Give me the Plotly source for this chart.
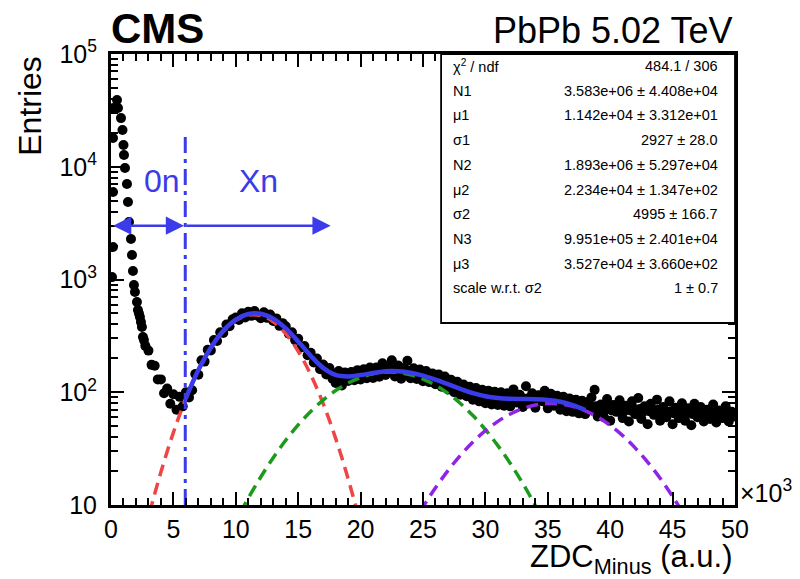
import math
import plotly.graph_objects as go

# ---------------- data ----------------
# measured points (x in units of 10^3 a.u.)
early_x = [0.08, 0.16, 0.16, 0.16, 0.16, 0.48, 0.56, 0.80, 0.92, 1.00, 1.04, 1.12, 1.28,
           1.36, 1.44, 1.60, 1.68, 1.76, 1.84, 1.92, 2.08, 2.16, 2.24, 2.32, 2.40, 2.48, 2.56, 2.64]
early_y = [1050, 1940, 5970, 18000, 33200, 39100, 33200, 27000, 21200, 15600, 12700, 9750, 7030,
           4870, 3240, 2290, 1650, 1190, 893, 774, 631, 536, 500, 465, 420, 379, 309, 290]

band_x = [2.75, 3.00, 3.25, 3.50, 3.75, 4.00, 4.25, 4.50, 4.75, 5.00, 5.25, 5.50, 5.75, 6.00, 6.25, 6.50, 6.75, 7.00, 7.25, 7.50,
          7.75, 8.00, 8.25, 8.50, 8.75, 9.00, 9.25, 9.50, 9.75, 10.00, 10.25, 10.50, 10.75, 11.00, 11.25, 11.50, 11.75, 12.00, 12.25, 12.50,
          12.75, 13.00, 13.25, 13.50, 13.75, 14.00, 14.25, 14.50, 14.75, 15.00, 15.25, 15.50, 15.75, 16.00, 16.25, 16.50, 16.75, 17.00, 17.25, 17.50,
          17.75, 18.00, 18.25, 18.50, 18.75, 19.00, 19.25, 19.50, 19.75, 20.00, 20.25, 20.50, 20.75, 21.00, 21.25, 21.50, 21.75, 22.00, 22.25, 22.50,
          22.75, 23.00, 23.25, 23.50, 23.75, 24.00, 24.25, 24.50, 24.75, 25.00, 25.25, 25.50, 25.75, 26.00, 26.25, 26.50, 26.75, 27.00, 27.25, 27.50,
          27.75, 28.00, 28.25, 28.50, 28.75, 29.00, 29.25, 29.50, 29.75, 30.00, 30.25, 30.50, 30.75, 31.00, 31.25, 31.50, 31.75, 32.00, 32.25, 32.50,
          32.75, 33.00, 33.25, 33.50, 33.75, 34.00, 34.25, 34.50, 34.75, 35.00, 35.25, 35.50, 35.75, 36.00, 36.25, 36.50, 36.75, 37.00, 37.25, 37.50,
          37.75, 38.00, 38.25, 38.50, 38.75, 39.00, 39.25, 39.50, 39.75, 40.00, 40.25, 40.50, 40.75, 41.00, 41.25, 41.50, 41.75, 42.00, 42.25, 42.50,
          42.75, 43.00, 43.25, 43.50, 43.75, 44.00, 44.25, 44.50, 44.75, 45.00, 45.25, 45.50, 45.75, 46.00, 46.25, 46.50, 46.75, 47.00, 47.25, 47.50,
          47.75, 48.00, 48.25, 48.50, 48.75, 49.00, 49.25, 49.50, 49.75, 50.00]
band_y = [258, 234, 175, 172, 130, 130, 98, 108, 79, 96, 70, 91, 75, 100, 90, 104, 145, 143, 192, 187,
          238, 235, 290, 285, 341, 335, 398, 385, 444, 461, 438, 502, 460, 517, 476, 526, 478, 454, 512, 457,
          489, 428, 452, 388, 410, 384, 330, 341, 290, 298, 249, 257, 213, 224, 184, 199, 160, 176, 144, 164,
          132, 121, 154, 115, 150, 126, 151, 128, 157, 130, 160, 133, 166, 134, 166, 137, 181, 142, 168, 192,
          138, 173, 132, 164, 190, 133, 163, 131, 159, 125, 154, 123, 147, 118, 144, 112, 138, 106, 129, 100,
          124, 95, 117, 92, 112, 86, 109, 83, 105, 80, 103, 78, 101, 77, 100, 76, 98, 75, 106, 81,
          95, 74, 113, 80, 98, 73, 94, 84, 103, 72, 97, 76, 93, 70, 91, 68, 88, 67, 86, 65,
          84, 64, 82, 90, 105, 61, 78, 60, 87, 56, 77, 67, 85, 59, 76, 55, 83, 64, 89, 58,
          75, 52, 79, 63, 86, 56, 74, 60, 83, 52, 73, 59, 80, 56, 72, 51, 79, 60, 74, 55,
          70, 58, 78, 54, 69, 59, 75, 55, 67, 61]

# second row of measured points, between the bins above
band2_x = [17.875, 18.125, 18.375, 18.625, 18.875, 19.125, 19.375, 19.625, 19.875, 20.125, 20.375, 20.625, 20.875, 21.125, 21.375, 21.625,
           21.875, 22.125, 22.375, 22.625, 22.875, 23.125, 23.375, 23.625, 23.875, 24.125, 24.375, 24.625, 24.875, 25.125, 25.375, 25.625,
           25.875, 26.125, 26.375, 26.625, 26.875, 27.125, 27.375, 27.625, 27.875, 28.125, 28.375, 28.625, 28.875, 29.125, 29.375, 29.625,
           29.875, 30.125, 30.375, 30.625, 30.875, 31.125, 31.375, 31.625, 31.875, 32.125, 32.375, 32.625, 32.875, 33.125, 33.375, 33.625,
           33.875, 34.125, 34.375, 34.625, 34.875, 35.125, 35.375, 35.625, 35.875, 36.125, 36.375, 36.625, 36.875, 37.125, 37.375, 37.625,
           37.875, 38.125, 38.375, 38.625, 38.875, 39.125, 39.375, 39.625, 39.875, 40.125, 40.375, 40.625, 40.875, 41.125, 41.375, 41.625,
           41.875, 42.125, 42.375, 42.625, 42.875, 43.125, 43.375, 43.625, 43.875, 44.125, 44.375, 44.625, 44.875, 45.125, 45.375, 45.625,
           45.875, 46.125, 46.375, 46.625, 46.875, 47.125, 47.375, 47.625, 47.875, 48.125, 48.375, 48.625, 48.875, 49.125, 49.375, 49.625, 49.875]
band2_y = [147, 138, 142, 135, 141, 136, 143, 137, 145, 140, 148, 142, 150, 146, 155, 148,
           157, 150, 158, 151, 160, 149, 156, 147, 153, 144, 150, 141, 146, 137, 140, 131,
           135, 126, 129, 120, 123, 114, 117, 108, 112, 103, 107, 99, 102, 95, 99, 92,
           95, 90, 93, 87, 92, 86, 91, 85, 90, 85, 89, 84, 90, 85, 88, 84,
           88, 84, 87, 83, 88, 83, 86, 82, 84, 80, 83, 77, 79, 75, 77, 73,
           76, 72, 75, 71, 75, 71, 74, 70, 73, 69, 73, 68, 72, 68, 71, 69,
           72, 68, 71, 67, 70, 68, 71, 67, 70, 66, 69, 66, 68, 65, 69, 65,
           68, 65, 67, 64, 68, 65, 67, 64, 67, 64, 66, 63, 66, 64, 66, 63, 65]

# fit components
red_x = [2, 3, 4, 5, 6, 7, 8, 9, 10, 11, 12, 13, 14, 15, 16, 17, 18, 19, 20, 21]
red_y = [2.75, 7.79, 19.6, 44.0, 87.9, 156, 246, 347, 434, 483, 479, 422, 331, 231, 143.5, 79.3, 39.0, 17.1, 6.65, 2.3]

green_x = [9, 10, 11, 12, 13, 14, 15, 16, 17, 18, 19, 20, 21, 22, 23, 24, 25, 26, 27, 28, 29, 30, 31, 32, 33, 34, 35]
green_y = [4.26, 7.14, 11.5, 17.7, 26.3, 37.5, 51.3, 67.5, 85.3, 103.5, 120.8, 135.3, 145.7, 150.7, 149.7, 142.9,
           131.0, 115.4, 97.7, 79.5, 62.1, 46.6, 33.6, 23.3, 15.5, 9.9, 6.08]

purple_x = [24, 25, 26, 27, 28, 29, 30, 31, 32, 33, 34, 35, 36, 37, 38, 39, 40, 41, 42, 43, 44, 45, 46]
purple_y = [6.24, 9.6, 14.2, 20.2, 27.6, 36.2, 45.6, 55.2, 64.2, 71.7, 77.0, 79.4, 78.7, 74.9, 68.5, 60.2,
            50.8, 41.2, 32.1, 24.0, 17.3, 11.9, 7.92]

total_x = [6, 7, 8, 9, 10, 11, 12, 13, 14, 15, 16, 17, 18, 19, 20, 21, 22, 23, 24, 25, 26, 27, 28, 29, 30,
           31, 32, 33, 34, 35, 36, 37, 38]
total_y = [88.6, 157.4, 248.5, 351, 441, 494.5, 496.7, 448.3, 368.5, 282.3, 211, 164.6, 142.5, 137.9, 142, 148,
           153.7, 153.6, 149.1, 140.6, 129.6, 117.9, 107.1, 98.3, 92.2, 88.8, 87.5, 87.2, 86.9, 85.5, 82.3, 76.9, 69.6]

# 0n / Xn separation
threshold_x = 5.95
threshold_top = 2.0e4
arrow_y = 3000
xn_arrow_end = 17.6

# statistics box
stat_names = ["χ<sup>2</sup> / ndf", "N1", "μ1", "σ1", "N2", "μ2", "σ2", "N3", "μ3", "scale w.r.t. σ2"]
stat_values = ["484.1 / 306", "3.583e+06 ± 4.408e+04", "1.142e+04 ± 3.312e+01", "2927 ± 28.0",
               "1.893e+06 ± 5.297e+04", "2.234e+04 ± 1.347e+02", "4995 ± 166.7",
               "9.951e+05 ± 2.401e+04", "3.527e+04 ± 3.660e+02", "1 ± 0.7"]

x_ticks = [0, 5, 10, 15, 20, 25, 30, 35, 40, 45, 50]
y_ticks = [10, 100, 1000, 10000, 100000]
y_ticktext = ["10", "10<sup>2</sup>", "10<sup>3</sup>", "10<sup>4</sup>", "10<sup>5</sup>"]

# ---------------- figure ----------------
FONT = "Liberation Sans, Arial, Helvetica, sans-serif"
BLUE = "#3b3bea"
RED = "#ef4545"
GREEN = "#1c9a1c"
PURPLE = "#8f24e6"

fig = go.Figure()
fig.add_trace(go.Scatter(x=early_x + band_x + band2_x, y=early_y + band_y + band2_y, mode="markers",
                         marker=dict(color="black", size=10, line=dict(width=0)),
                         showlegend=False, hoverinfo="skip"))
fig.add_trace(go.Scatter(x=red_x, y=red_y, mode="lines", line=dict(color=RED, width=3.5, dash="12px,7px", shape="spline"),
                         showlegend=False))
fig.add_trace(go.Scatter(x=green_x, y=green_y, mode="lines", line=dict(color=GREEN, width=3.5, dash="12px,7px", shape="spline"),
                         showlegend=False))
fig.add_trace(go.Scatter(x=purple_x, y=purple_y, mode="lines", line=dict(color=PURPLE, width=3.5, dash="12px,7px", shape="spline"),
                         showlegend=False))
fig.add_trace(go.Scatter(x=total_x, y=total_y, mode="lines", line=dict(color=BLUE, width=4.5, shape="spline"),
                         showlegend=False))
fig.add_trace(go.Scatter(x=[threshold_x, threshold_x], y=[10, threshold_top], mode="lines",
                         line=dict(color=BLUE, width=3, dash="16px,6px,4px,6px"), showlegend=False))

minor_y = [m * d for d in (10, 100, 1000, 10000) for m in range(2, 10)]

fig.update_layout(
    width=800, height=579,
    margin=dict(l=111, r=65, t=54, b=74),
    paper_bgcolor="white", plot_bgcolor="white",
    font=dict(family=FONT, color="black"),
    showlegend=False,
    xaxis=dict(range=[0, 50], tickvals=x_ticks, ticktext=[str(v) for v in x_ticks],
               ticks="inside", ticklen=13, tickwidth=2, tickcolor="black",
               showline=True, linewidth=3, linecolor="black", mirror="allticks",
               showgrid=False, zeroline=False, tickfont=dict(size=25, family=FONT),
               minor=dict(dtick=1, ticks="inside", ticklen=7, tickwidth=1.5, tickcolor="black", showgrid=False)),
    yaxis=dict(type="log", range=[1, 5], tickvals=y_ticks, ticktext=y_ticktext,
               ticks="inside", ticklen=13, tickwidth=2, tickcolor="black",
               showline=True, linewidth=3, linecolor="black", mirror="allticks",
               showgrid=False, zeroline=False, tickfont=dict(size=25, family=FONT),
               ticklabelstandoff=6,
               minor=dict(tickvals=minor_y, ticks="inside", ticklen=7, tickwidth=1.5, tickcolor="black", showgrid=False)),
)

ann = []
# titles
ann.append(dict(text="<b>CMS</b>", x=-0.003, y=1.056, xref="paper", yref="paper", xanchor="left", yanchor="middle",
                showarrow=False, font=dict(size=42, family=FONT)))
ann.append(dict(text="PbPb 5.02 TeV", x=1.0, y=1.052, xref="paper", yref="paper", xanchor="right", yanchor="middle",
                showarrow=False, font=dict(size=36, family=FONT)))
ann.append(dict(text="Entries", x=-0.13, y=0.885, xref="paper", yref="paper", xanchor="center", yanchor="middle",
                textangle=-90, showarrow=False, font=dict(size=32, family=FONT)))
ann.append(dict(text="ZDC<sub>Minus</sub> (a.u.)", x=1.0, y=-0.119, xref="paper", yref="paper", xanchor="right", yanchor="middle",
                showarrow=False, font=dict(size=31, family=FONT)))
ann.append(dict(text="×10<sup>3</sup>", x=1.005, y=0.03, xref="paper", yref="paper", xanchor="left", yanchor="middle",
                showarrow=False, font=dict(size=25, family=FONT)))
# 0n / Xn labels
ann.append(dict(text="0n", x=2.45, y=math.log10(7500), xref="x", yref="y", xanchor="left", yanchor="middle",
                showarrow=False, font=dict(size=32, family=FONT, color=BLUE)))
ann.append(dict(text="Xn", x=10.1, y=math.log10(7500), xref="x", yref="y", xanchor="left", yanchor="middle",
                showarrow=False, font=dict(size=32, family=FONT, color=BLUE)))
# arrows
ann.append(dict(text="", x=threshold_x - 0.1, y=math.log10(arrow_y), ax=0.05, ay=math.log10(arrow_y),
                xref="x", yref="y", axref="x", ayref="y", showarrow=True,
                arrowhead=2, startarrowhead=2, arrowside="end+start", arrowsize=1.4, startarrowsize=1.4,
                arrowwidth=2.6, arrowcolor=BLUE, standoff=0, startstandoff=0))
ann.append(dict(text="", x=xn_arrow_end, y=math.log10(arrow_y), ax=threshold_x, ay=math.log10(arrow_y),
                xref="x", yref="y", axref="x", ayref="y", showarrow=True,
                arrowhead=2, arrowsize=1.4, arrowwidth=2.6, arrowcolor=BLUE, standoff=0))

# statistics box
box_x0, box_x1, box_y0, box_y1 = 0.529, 1.0, 0.4035, 1.0
row_top_px, row_step_px = 66, 24.7
plot_top_px, plot_h_px = 54, 451
for i, (n, v) in enumerate(zip(stat_names, stat_values)):
    ypx = row_top_px + row_step_px * i
    yp = 1 - (ypx - plot_top_px) / plot_h_px
    ann.append(dict(text=n, x=0.545, y=yp, xref="paper", yref="paper", xanchor="left", yanchor="middle",
                    showarrow=False, font=dict(size=14.5, family=FONT)))
    ann.append(dict(text=v, x=0.976, y=yp, xref="paper", yref="paper", xanchor="right", yanchor="middle",
                    showarrow=False, font=dict(size=14.5, family=FONT)))

fig.update_layout(annotations=ann,
                  shapes=[dict(type="rect", xref="paper", yref="paper", x0=box_x0, x1=box_x1, y0=box_y0, y1=box_y1,
                               line=dict(color="black", width=1.8), fillcolor="white", layer="above")])

fig.write_html("out.html")
